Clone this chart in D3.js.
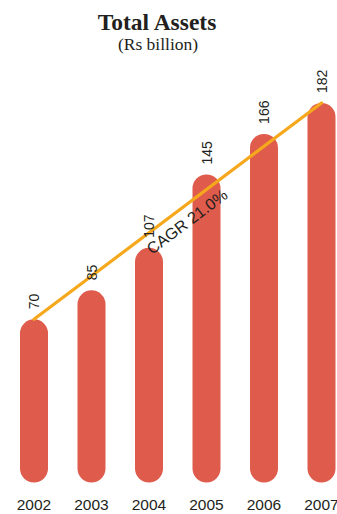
<!DOCTYPE html>
<html>
<head>
<meta charset="utf-8">
<script src="https://cdn.jsdelivr.net/npm/d3@7"></script>
<style>
  html, body { margin: 0; padding: 0; background: #ffffff; }
  svg { display: block; }
</style>
</head>
<body>
<svg id="chart" width="337" height="514"></svg>
<script>
const years = ["2002", "2003", "2004", "2005", "2006", "2007"];
const assets = [70, 85, 107, 145, 166, 182];
const cagrLabel = "CAGR 21.0%";
const titleText = "Total Assets";
const subtitleText = "(Rs billion)";

const svg = d3.select("#chart");
const W = 337, H = 514;
const barColor = "#df5b4b";
const lineColor = "#f6a81d";
const textColor = "#231f20";
const barW = 28;
const baseExtra = 28; // rounded bar extends below the zero line

const x = d3.scalePoint().domain(years).range([34, 321.5]);
const y = d3.scaleLinear().domain([0, 182]).range([454.5, 103]);

// title
svg.append("text")
  .attr("x", 157).attr("y", 30)
  .attr("text-anchor", "middle")
  .style("font-family", "'Liberation Serif', 'DejaVu Serif', serif")
  .style("font-weight", "bold")
  .style("font-size", "23.5px")
  .style("fill", textColor)
  .text(titleText);

svg.append("text")
  .attr("x", 158).attr("y", 50)
  .attr("text-anchor", "middle")
  .style("font-family", "'Liberation Serif', 'DejaVu Serif', serif")
  .style("font-size", "17.5px")
  .style("fill", textColor)
  .text(subtitleText);

const data = years.map((yr, i) => ({ year: yr, value: assets[i] }));

// bars
svg.append("g").selectAll("rect")
  .data(data)
  .join("rect")
  .attr("x", d => x(d.year) - barW / 2)
  .attr("y", d => y(d.value))
  .attr("width", barW)
  .attr("height", d => y(0) + baseExtra - y(d.value))
  .attr("rx", barW / 2)
  .attr("ry", barW / 2)
  .attr("fill", barColor);

// CAGR line from first to last bar top
const first = data[0], last = data[data.length - 1];
const x1 = x(first.year), y1 = y(first.value);
const x2 = x(last.year), y2 = y(last.value);
svg.append("line")
  .attr("x1", x1).attr("y1", y1)
  .attr("x2", x2).attr("y2", y2)
  .attr("stroke", lineColor)
  .attr("stroke-width", 3.2)
  .attr("stroke-linecap", "round");

// value labels
svg.append("g").selectAll("text")
  .data(data)
  .join("text")
  .attr("transform", d => `translate(${x(d.year) + 0.5},${y(d.value) - 10}) rotate(-90)`)
  .attr("dy", "0.35em")
  .attr("text-anchor", "start")
  .style("font-family", "'Liberation Sans', Arial, sans-serif")
  .style("font-size", "14px")
  .style("fill", textColor)
  .text(d => d.value);

// CAGR label along line
const angle = Math.atan2(y2 - y1, x2 - x1) * 180 / Math.PI;
svg.append("text")
  .attr("transform", `translate(152,255) rotate(${angle})`)
  .attr("text-anchor", "start")
  .style("font-family", "'Liberation Sans', Arial, sans-serif")
  .style("font-size", "16px")
  .style("fill", textColor)
  .text(cagrLabel);

// year labels
svg.append("g").selectAll("text")
  .data(data)
  .join("text")
  .attr("x", d => x(d.year))
  .attr("y", 510)
  .attr("text-anchor", "middle")
  .style("font-family", "'Liberation Sans', Arial, sans-serif")
  .style("font-size", "15.5px")
  .style("fill", textColor)
  .text(d => d.year);
</script>
</body>
</html>
